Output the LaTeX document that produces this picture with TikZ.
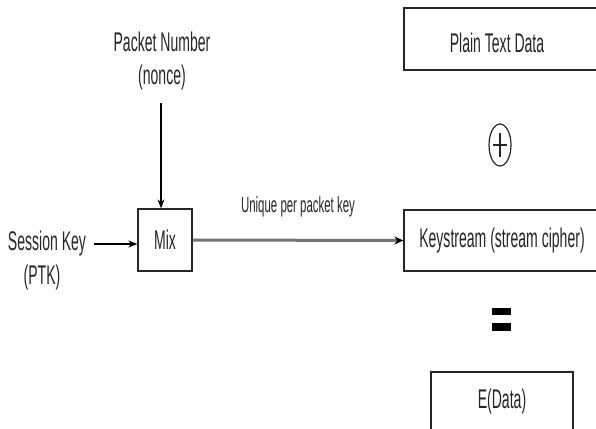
\documentclass[tikz,border=0pt]{standalone}
\usepackage{fontspec}
\newfontfamily\nar[FakeStretch=0.52]{Liberation Sans}
\usetikzlibrary{arrows.meta,shapes.geometric}
\tikzset{
  lbl/.style={font=\nar\fontsize{27}{32}\selectfont, text=black!85, inner sep=0pt},
  small/.style={font=\nar\fontsize{22}{26}\selectfont, text=black!85, inner sep=0pt},
  boxx/.style={draw=black!85, line width=1.3pt, rectangle, inner sep=0pt,
    font=\nar\fontsize{27}{32}\selectfont, text=black!85},
  arr/.style={line width=1.2pt, -{Stealth[length=9pt,width=7pt]}},
}
\begin{document}
\begin{tikzpicture}[x=1pt,y=-1pt]
\clip (0,0) rectangle (596,428);
\fill[white] (0,0) rectangle (596,428);
% nodes
\node[lbl] (pn) at (162,42) {Packet Number};
\node[lbl] (nonce) at (162,78) {(nonce)};
\node[lbl] (sk) at (47,244) {Session Key};
\node[lbl] (ptk) at (42,278) {(PTK)};
\node[boxx, minimum width=54pt, minimum height=62pt] (mix) at (165,240) {Mix};
\node[boxx, minimum width=196pt, minimum height=62pt] (plain) at (502,39) {};
\node[lbl] (plaintext) at (497,43) {Plain Text Data};
\node[boxx, minimum width=196pt, minimum height=61pt] (ks) at (502,240.5) {Keystream (stream cipher)};
\node[boxx, minimum width=142pt, minimum height=60pt] (ed) at (502,402) {E(Data)};
\node[draw=black!85, line width=1.2pt, ellipse, minimum width=22pt, minimum height=42pt, inner sep=0pt] (xor) at (500,145) {};
\draw[line width=1.1pt, black!85] ([xshift=-7pt]xor.center) -- ([xshift=7pt]xor.center);
\draw[line width=1.1pt, black!85] ([yshift=-12pt]xor.center) -- ([yshift=12pt]xor.center);
% equals sign
\fill[black] (492,308) rectangle (511,315);
\fill[black] (492,323) rectangle (511,331);
% connectors
\draw[arr] ([yshift=-12pt]nonce.south -| mix.north) ++(-4pt,0) coordinate (ps) -- (ps |- mix.north);
\draw[arr] ([xshift=8pt]sk.east) -- (mix.west |- sk.east);
\draw[line width=3pt, black!55, -{Stealth[length=9pt,width=8pt,color=black]}] (mix.east) -- (ks.west)
  node[small, midway, above=22pt] (lab) {Unique per packet key};
\end{tikzpicture}
\end{document}
